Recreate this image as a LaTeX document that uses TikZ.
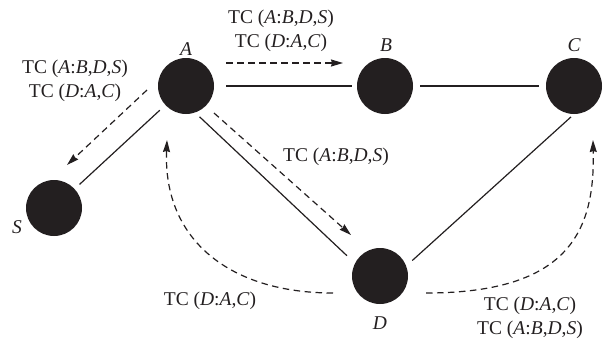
\documentclass[tikz,border=0pt]{standalone}
\usepackage{fontspec}
\setmainfont{Liberation Serif}
\usetikzlibrary{arrows.meta}
\definecolor{ink}{HTML}{231F20}
\begin{document}
\begin{tikzpicture}[x=1pt,y=-1pt,
  dot/.style={circle,fill=ink,draw=none,minimum size=56pt,inner sep=0pt},
  lbl/.style={font=\fontsize{19.5}{24}\selectfont\itshape,text=ink,inner sep=0pt},
  tc/.style={font=\fontsize{19.5}{24}\selectfont,text=ink,align=center,inner sep=0pt},
  link/.style={draw=ink,line width=1.2pt},
  msg/.style={draw=ink,line width=1.2pt,dash pattern=on 6.5pt off 4.5pt,
    -{Stealth[length=12pt,width=7pt,inset=1pt]}},
]
\useasboundingbox (0,0) rectangle (608,341);
% nodes
\node[dot] (A) at (186,86) {};
\node[dot] (B) at (385,86) {};
\node[dot] (C) at (574,86) {};
\node[dot] (S) at (54,208) {};
\node[dot] (D) at (380,276) {};
% node labels
\node[lbl] (lA) at (186,49) {A};
\node[lbl] (lB) at (386,45) {B};
\node[lbl] (lC) at (574,45) {C};
\node[lbl] (lS) at (17,227) {S};
\node[lbl] (lD) at (380,323) {D};
% message labels
\node[tc] (t1) at (281,31) {TC (\textit{A}:\textit{B},\textit{D},\textit{S})\\TC (\textit{D}:\textit{A},\textit{C})};
\node[tc] (t2) at (75,81) {TC (\textit{A}:\textit{B},\textit{D},\textit{S})\\TC (\textit{D}:\textit{A},\textit{C})};
\node[tc] (t3) at (336,157) {TC (\textit{A}:\textit{B},\textit{D},\textit{S})};
\node[tc] (t4) at (210,301) {TC (\textit{D}:\textit{A},\textit{C})};
\node[tc] (t5) at (530,318) {TC (\textit{D}:\textit{A},\textit{C})\\TC (\textit{A}:\textit{B},\textit{D},\textit{S})};
% links
\draw[link,shorten <=12pt,shorten >=5pt] (A) -- (B);
\draw[link,shorten <=7pt,shorten >=7pt] (B) -- (C);
\draw[link,shorten <=7.5pt,shorten >=6.5pt] (A) -- (S);
\draw[link,shorten <=6pt,shorten >=11pt] (A.-71) -- (D.153);
\draw[link,shorten <=8pt,shorten >=4pt] (D.21) -- (C.south);
% messages
\draw[msg] ([shift={(40,-23)}]A.center) -- ([shift={(-42,-23)}]B.center);
\draw[msg] ([shift={(-39,4)}]A.center) -- ([shift={(13,-43)}]S.center);
\draw[msg] ([shift={(28,27)}]A.center) -- ([shift={(-29,-41)}]D.center);
\draw[msg] ([shift={(-47,17)}]D.center) .. controls +(-103,0) and +(-4,100) .. ([shift={(-19,54)}]A.center);
\draw[msg] ([shift={(46,17)}]D.center) .. controls +(144,0) and +(2,90) .. ([shift={(19,54)}]C.center);
\end{tikzpicture}
\end{document}
